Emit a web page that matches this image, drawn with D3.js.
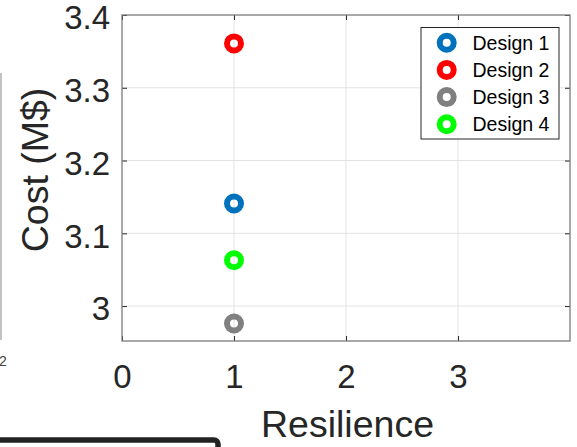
<!DOCTYPE html>
<html>
<head>
<meta charset="utf-8">
<script src="https://cdn.jsdelivr.net/npm/d3@7"></script>
<style>
  html, body { margin: 0; padding: 0; background: #fff; }
  svg { display: block; font-family: "Liberation Sans", Arial, Helvetica, sans-serif; }
</style>
</head>
<body>
<svg id="chart" width="577" height="447"></svg>
<script>
// Cost vs. resilience for four candidate designs
const designs = ["Design 1", "Design 2", "Design 3", "Design 4"];
const resilience = [1, 1, 1, 1];
const cost = [3.141, 3.361, 2.976, 3.063];
const colors = ["#0072BD", "#FF0000", "#808080", "#00FF00"];

const xTicks = [0, 1, 2, 3];
const xTickLabels = ["0", "1", "2", "3"];
const yTicks = [3, 3.1, 3.2, 3.3, 3.4];
const yTickLabels = ["3", "3.1", "3.2", "3.3", "3.4"];
const xDomain = [0, 4];
const yDomain = [2.952, 3.4];

const svg = d3.select("#chart");
const plot = { left: 122, right: 570, top: 15, bottom: 341 };

const x = d3.scaleLinear().domain(xDomain).range([plot.left, plot.right]);
const y = d3.scaleLinear().domain(yDomain).range([plot.bottom, plot.top]);

const textColor = "#262626";
const axisColor = "#7a7a7a";
const gridColor = "#e3e3e3";

// Neighbouring panel fragments at the edges of the figure
svg.append("line")
  .attr("x1", 1).attr("x2", 1).attr("y1", 73).attr("y2", 340)
  .attr("stroke", "#9a9a9a").attr("stroke-width", 1.2);
svg.append("text")
  .attr("x", -1).attr("y", 366)
  .attr("font-size", 14).attr("fill", "#444")
  .text("2");
svg.append("rect")
  .attr("x", -20).attr("y", 440).attr("width", 238).attr("height", 40)
  .attr("rx", 4)
  .attr("fill", "none").attr("stroke", "#222").attr("stroke-width", 5.5);

// Grid
const grid = svg.append("g");
grid.selectAll(".gx").data(xTicks.filter(d => d > xDomain[0])).enter().append("line")
  .attr("x1", d => x(d)).attr("x2", d => x(d))
  .attr("y1", plot.top).attr("y2", plot.bottom)
  .attr("stroke", gridColor).attr("stroke-width", 1);
grid.selectAll(".gy").data(yTicks.filter(d => d < yDomain[1])).enter().append("line")
  .attr("x1", plot.left).attr("x2", plot.right)
  .attr("y1", d => y(d)).attr("y2", d => y(d))
  .attr("stroke", gridColor).attr("stroke-width", 1);

// Axes (ticks pointing inward, box on all four sides)
const tickLen = 5;
const xAxisBottom = d3.axisBottom(x).tickValues(xTicks)
  .tickFormat((d, i) => xTickLabels[i]).tickSizeInner(-tickLen).tickSizeOuter(0).tickPadding(24);
const yAxisLeft = d3.axisLeft(y).tickValues(yTicks)
  .tickFormat((d, i) => yTickLabels[i]).tickSizeInner(-tickLen).tickSizeOuter(0).tickPadding(12);
const xAxisTop = d3.axisTop(x).tickValues(xTicks)
  .tickFormat("").tickSizeInner(-tickLen).tickSizeOuter(0);
const yAxisRight = d3.axisRight(y).tickValues(yTicks)
  .tickFormat("").tickSizeInner(-tickLen).tickSizeOuter(0);

function styleAxis(g) {
  g.select(".domain").remove();
  g.selectAll(".tick line").attr("stroke", textColor).attr("stroke-width", 1);
  g.selectAll(".tick text").attr("fill", textColor).attr("font-size", 33)
    .attr("font-family", "'Liberation Sans', Arial, sans-serif");
}

svg.append("g").attr("transform", `translate(0,${plot.bottom})`).call(xAxisBottom).call(styleAxis);
svg.append("g").attr("transform", `translate(${plot.left},0)`).call(yAxisLeft).call(styleAxis)
  .selectAll(".tick text").attr("dy", "0.42em");
svg.append("g").attr("transform", `translate(0,${plot.top})`).call(xAxisTop).call(styleAxis);
svg.append("g").attr("transform", `translate(${plot.right},0)`).call(yAxisRight).call(styleAxis);

svg.append("rect")
  .attr("x", plot.left).attr("y", plot.top)
  .attr("width", plot.right - plot.left).attr("height", plot.bottom - plot.top)
  .attr("fill", "none").attr("stroke", axisColor).attr("stroke-width", 1.3);

// Axis titles
svg.append("text")
  .attr("x", 347.5).attr("y", 437)
  .attr("text-anchor", "middle").attr("font-size", 37.5).attr("fill", textColor)
  .text("Resilience");
svg.append("text")
  .attr("transform", "translate(48,170) rotate(-90)")
  .attr("text-anchor", "middle").attr("font-size", 37.5).attr("fill", textColor)
  .text("Cost (M$)");

// Data markers
svg.append("g").selectAll("circle").data(designs).enter().append("circle")
  .attr("cx", (d, i) => x(resilience[i]))
  .attr("cy", (d, i) => y(cost[i]))
  .attr("r", 7)
  .attr("fill", "none")
  .attr("stroke", (d, i) => colors[i])
  .attr("stroke-width", 6);

// Legend
const legend = svg.append("g");
legend.append("rect")
  .attr("x", 421).attr("y", 27.5).attr("width", 138).attr("height", 111.5)
  .attr("fill", "#fff").attr("stroke", "#262626").attr("stroke-width", 1);
const rowH = 27.2;
const rows = legend.selectAll(".row").data(designs).enter().append("g")
  .attr("transform", (d, i) => `translate(0,${42.7 + i * rowH})`);
rows.append("circle")
  .attr("cx", 446.7).attr("cy", 0).attr("r", 7)
  .attr("fill", "none")
  .attr("stroke", (d, i) => colors[i]).attr("stroke-width", 6);
rows.append("text")
  .attr("x", 472.5).attr("y", 6.8)
  .attr("font-size", 19.5).attr("fill", "#000")
  .text(d => d);
</script>
</body>
</html>
